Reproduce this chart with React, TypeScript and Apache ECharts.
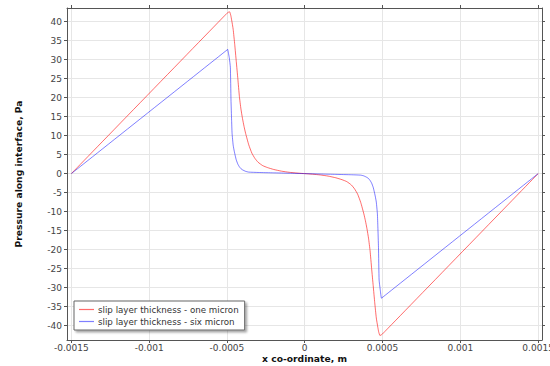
import React, { useEffect, useRef } from "react";
import * as echarts from "echarts";

const seriesNames = ["slip layer thickness - one micron", "slip layer thickness - six micron"];

// x co-ordinate (m) and pressure (Pa), red curve (one micron)
const oneMicronX = [
  -0.0015, -0.0005, -0.00049, -0.000483, -0.000475, -0.00047, -0.00046, -0.00045, -0.00044, -0.00043,
  -0.00042, -0.00041, -0.0004, -0.00039, -0.00038, -0.00036, -0.00034, -0.00032, -0.0003, -0.00027,
  -0.00024, -0.0002, -0.00015, -0.0001, -0.00005, 0,
  0.00005, 0.0001, 0.00015, 0.0002, 0.00024, 0.00027, 0.0003, 0.00032, 0.00034, 0.00036,
  0.00038, 0.00039, 0.0004, 0.00041, 0.00042, 0.00043, 0.00044, 0.00045, 0.00046, 0.00047,
  0.000475, 0.000483, 0.00049, 0.0005, 0.0015,
];
const oneMicronY = [
  0, 42.2, 42.5, 42.6, 41.6, 40.5, 38, 34, 29.5, 25,
  20.3, 17, 14.5, 12.4, 10.6, 7.6, 5.4, 4.0, 3.0, 2.1,
  1.6, 1.1, 0.65, 0.35, 0.15, 0,
  -0.15, -0.35, -0.65, -1.1, -1.6, -2.1, -3.0, -4.0, -5.4, -7.6,
  -10.6, -12.4, -14.5, -17, -20.3, -25, -29.5, -34, -38, -40.5,
  -41.6, -42.6, -42.5, -42.2, 0,
];

// blue curve (six micron)
const sixMicronX = [
  -0.0015, -0.000495, -0.000493, -0.000485, -0.000478, -0.000474, -0.00047, -0.000467, -0.00046, -0.000453,
  -0.000446, -0.00044, -0.00043, -0.00042, -0.00041, -0.0004, -0.00038, -0.00036, -0.0003, -0.0002,
  -0.0001, 0,
  0.0001, 0.0002, 0.0003, 0.00036, 0.00038, 0.0004, 0.00041, 0.00042, 0.00043, 0.00044,
  0.000446, 0.000453, 0.00046, 0.000467, 0.00047, 0.000474, 0.000478, 0.000485, 0.000493, 0.000495,
  0.0015,
];
const sixMicronY = [
  0, 32.7, 32.8, 30.5, 28, 19.4, 14, 10.6, 7.5, 5.9,
  4.6, 3.6, 2.5, 1.8, 1.3, 1.0, 0.6, 0.4, 0.3, 0.2,
  0.1, 0,
  -0.1, -0.2, -0.3, -0.4, -0.6, -1.0, -1.3, -1.8, -2.5, -3.6,
  -4.6, -5.9, -7.5, -10.6, -14, -19.4, -28, -30.5, -32.8, -32.7,
  0,
];

const xTicks = [-0.0015, -0.001, -0.0005, 0, 0.0005, 0.001, 0.0015];
const yTicks = [-40, -35, -30, -25, -20, -15, -10, -5, 0, 5, 10, 15, 20, 25, 30, 35, 40];

const FONT = "DejaVu Sans";

export default function App() {
  const ref = useRef<HTMLDivElement>(null);
  useEffect(() => {
    if (!ref.current) return;
    const chart = echarts.init(ref.current, null, { renderer: "svg" });
    const zip = (xs: number[], ys: number[]) => xs.map((x, i) => [x, ys[i]]);
    const axisLine = { show: true, onZero: false, lineStyle: { color: "#555", width: 1 } };
    const grid = { show: true, lineStyle: { color: "#e6e6e6", width: 1 } };
    const fmtX = (v: number) => {
      if (Math.abs(v) < 1e-12) return "0";
      return String(parseFloat(v.toFixed(6)));
    };
    chart.setOption({
      animation: false,
      backgroundColor: "#fff",
      grid: { left: 67, right: 8, top: 8, bottom: 26, containLabel: false, outerBoundsMode: "none" },
      xAxis: [
        {
          type: "value",
          min: -0.001528,
          max: 0.001525,
          position: "bottom",
          name: "x co-ordinate, m",
          nameLocation: "middle",
          nameGap: 13,
          nameMoveOverlap: false,
          nameTextStyle: { fontFamily: FONT, fontSize: 9.2, fontWeight: "bold", color: "#111", lineHeight: 10 },
          axisLine,
          axisTick: { show: true, length: 3, inside: false, customValues: xTicks, lineStyle: { color: "#555" } },
          axisLabel: {
            customValues: xTicks,
            formatter: fmtX,
            fontFamily: FONT,
            fontSize: 9,
            lineHeight: 10,
            color: "#444",
            margin: 3,
            hideOverlap: false,
          },
          splitLine: grid,
        },
        {
          type: "value",
          min: -0.001528,
          max: 0.001525,
          position: "top",
          axisLine,
          axisTick: { show: true, length: 3, customValues: xTicks, lineStyle: { color: "#555" } },
          axisLabel: { show: false },
          splitLine: { show: false },
        },
      ],
      yAxis: [
        {
          type: "value",
          min: -43.8,
          max: 43.6,
          position: "left",
          name: "Pressure along interface, Pa",
          nameLocation: "middle",
          nameGap: 44,
          nameMoveOverlap: false,
          nameRotate: 90,
          nameTextStyle: { fontFamily: FONT, fontSize: 9.2, fontWeight: "bold", color: "#111" },
          axisLine,
          axisTick: { show: true, length: 3, customValues: yTicks, lineStyle: { color: "#555" } },
          axisLabel: {
            customValues: yTicks,
            fontFamily: FONT,
            fontSize: 9,
            color: "#444",
            margin: 5,
          },
          splitLine: grid,
        },
        {
          type: "value",
          min: -43.8,
          max: 43.6,
          position: "right",
          axisLine,
          axisTick: { show: true, length: 3, customValues: yTicks, lineStyle: { color: "#555" } },
          axisLabel: { show: false },
          splitLine: { show: false },
        },
      ],
      legend: {
        orient: "vertical",
        left: 74,
        top: 301,
        icon: "rect",
        itemWidth: 15,
        itemHeight: 1.2,
        itemGap: 3,
        padding: [4, 6, 4, 5],
        backgroundColor: "#fff",
        borderColor: "#666",
        borderWidth: 1,
        shadowColor: "rgba(0,0,0,0.35)",
        shadowBlur: 2,
        shadowOffsetX: 2,
        shadowOffsetY: 2,
        textStyle: { fontFamily: FONT, fontSize: 8.7, color: "#333", padding: [0, 0, 0, -1] },
        data: seriesNames,
      },
      series: [
        {
          name: seriesNames[0],
          type: "line",
          xAxisIndex: 0,
          yAxisIndex: 0,
          data: zip(oneMicronX, oneMicronY),
          showSymbol: false,
          smooth: 0.15,
          lineStyle: { color: "rgba(255,0,0,0.58)", width: 1 },
          itemStyle: { color: "rgba(255,0,0,0.58)" },
        },
        {
          name: seriesNames[1],
          type: "line",
          xAxisIndex: 0,
          yAxisIndex: 0,
          data: zip(sixMicronX, sixMicronY),
          showSymbol: false,
          smooth: 0.15,
          lineStyle: { color: "rgba(0,0,255,0.5)", width: 1 },
          itemStyle: { color: "rgba(0,0,255,0.5)" },
        },
      ],
    });
    return () => chart.dispose();
  }, []);
  return <div ref={ref} style={{ width: 550, height: 366, position: "absolute", left: 0, top: 0 }} />;
}
